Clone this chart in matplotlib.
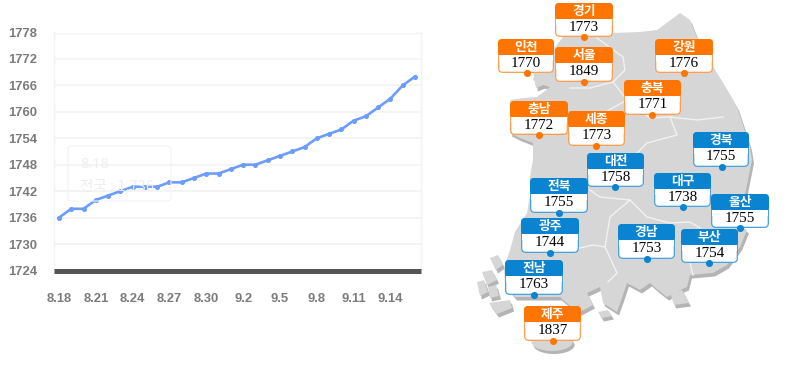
import matplotlib
matplotlib.use("Agg")
import matplotlib.pyplot as plt
from matplotlib.patches import FancyBboxPatch, Polygon, Rectangle, Ellipse

W, H = 791, 380
dates = ["8.18","8.19","8.20","8.21","8.22","8.23","8.24","8.25","8.26","8.27","8.28","8.29","8.30","8.31",
         "9.1","9.2","9.3","9.4","9.5","9.6","9.7","9.8","9.9","9.10","9.11","9.12","9.13","9.14","9.15","9.16"]
values = [1736,1738,1738,1740,1741,1742,1743,1743,1743,1744,1744,1745,1746,1746,1747,
          1748,1748,1749,1750,1751,1752,1754,1755,1756,1758,1759,1761,1763,1766,1768]
yticks = [1724,1730,1736,1742,1748,1754,1760,1766,1772,1778]

regions = ["경기","인천","서울","강원","충북","충남","세종","경북","대전","전북","대구","울산","광주","경남","부산","전남","제주"]
prices = [1773,1770,1849,1776,1771,1772,1773,1755,1758,1755,1738,1755,1744,1753,1754,1763,1837]
kinds = ["o","o","o","o","o","o","o","b","b","b","b","b","b","b","b","b","o"]
# box left, right, top, bottom in picture pixels
boxes = [(555,613,3,37),(498,554,39,73),(555,613,47,82),(655,713,39,73),(624,681,80,115),(510,568,101,135),
         (568,625,111,146),(693,749,132,167),(587,644,153,187),(530,588,178,213),(654,711,173,207),
         (711,769,194,228),(521,579,218,253),(618,675,224,259),(681,738,229,263),(505,563,260,295),(524,581,306,341)]
dot_x = [584,527,584,684,652,539,596,722,615,559,683,740,550,647,709,534,553]

mainland = [(563,37),(585,35),(613,33),(640,32),(657,30),(668,22),(680,13),(690,20),(696,35),(703,50),(713,67),(723,83),
            (730,95),(737,107),(743,125),(750,147),(752,160),(749,175),(746,190),(741,208),(737,223),(747,230),(740,247),
            (727,265),(713,273),(690,275),(687,287),(680,290),(667,297),(658,290),(650,283),(640,290),(627,283),(622,298),
            (617,312),(603,303),(600,287),(587,293),(593,305),(580,312),(570,306),(560,297),(530,297),(515,297),(505,285),
            (504,268),(510,250),(515,232),(527,213),(530,195),(530,177),(533,160),(533,143),(520,138),(510,133),(513,118),
            (510,100),(524,98),(537,97),(550,87),(540,84),(533,80),(537,67),(545,58),(553,50)]
islands = [[(490,258),(498,255),(503,265),(496,270)],[(482,272),(492,270),(497,280),(487,285)],
           [(477,282),(484,280),(488,292),(480,296)],[(488,287),(496,285),(499,296),(490,298)],
           [(489,303),(510,300),(512,308),(497,314)],[(670,292),(682,290),(689,303),(674,305)],
           [(598,312),(608,310),(612,316),(602,318)],[(533,72),(544,72),(546,84),(536,88)]]
borders = [[(597,38),(623,57),(625,70),(613,82),(627,100),(650,118),(670,117),(697,120),(723,117)],
           [(670,117),(677,135),(647,143),(630,160),(632,175)],
           [(570,88),(590,88),(613,82)],[(538,110),(570,113),(600,115),(627,100)],
           [(590,190),(600,197),(630,200),(610,217),(605,247),(617,273),(608,282)],
           [(630,200),(647,217),(670,223),(690,222),(700,228)],
           [(545,250),(580,248),(593,245),(605,247)],[(690,262),(693,275)]]

fig = plt.figure(figsize=(W/100, H/100), dpi=100)
ax = fig.add_axes([54/W, 1-270.5/H, (421-54)/W, (270.5-32.5)/H])
xs = list(range(len(dates)))
ax.plot(xs, values, color="#6c9cff", lw=1.9, marker="o", ms=2.6, zorder=4, clip_on=False)
ax.set_xlim(-5/12.28, 29+6/12.28)
ax.set_ylim(1724, 1778)
ax.set_yticks(yticks)
ax.set_xticks(xs[::3])
ax.set_xticklabels(dates[::3])
ax.grid(axis="y", color="#f3f3f3", lw=1.3)
ax.set_axisbelow(True)
ax.tick_params(length=0)
ax.tick_params(axis="y", pad=12)
ax.tick_params(axis="x", pad=16)
for lab in ax.get_xticklabels() + ax.get_yticklabels():
    lab.set_fontfamily("Liberation Sans")
    lab.set_fontweight("bold")
    lab.set_fontsize(9.4)
    lab.set_color("#7b7b7b")
for s in ("top", "left", "right"):
    ax.spines[s].set_color("#f3f3f3")
    ax.spines[s].set_linewidth(1.0)
ax.spines["bottom"].set_color("#555555")
ax.spines["bottom"].set_linewidth(3.6)
ax.spines["bottom"].set_capstyle("butt")

ov = fig.add_axes([0, 0, 1, 1], facecolor="none")
ov.set_xlim(0, W)
ov.set_ylim(H, 0)
ov.axis("off")

ov.add_patch(FancyBboxPatch((68, 146), 103, 55, boxstyle="round,pad=0,rounding_size=4",
                            fc="none", ec="#f0f3fb", lw=0.8, zorder=1))
ov.text(80, 164, "8.18", fontsize=10.5, color="#eeeeee", family="Noto Sans", va="center", zorder=1)
ov.text(80, 186, "전국 : 1,736", fontsize=10.5, color="#eeeeee", family="Noto Sans CJK KR", va="center", zorder=1)

SH = (2, 3.5)
for poly in [mainland] + islands:
    ov.add_patch(Polygon([(x+SH[0], y+SH[1]) for x, y in poly], fc="#b4b4b4", ec="none", zorder=2))
for poly in [mainland] + islands:
    ov.add_patch(Polygon(poly, fc="#d6d6d6", ec="none", zorder=3))
ov.add_patch(Ellipse((554, 345), 41, 18, fc="#b4b4b4", ec="none", zorder=2))
ov.add_patch(Ellipse((552, 342), 41, 18, fc="#d6d6d6", ec="none", zorder=3))
for line in borders:
    ov.plot(*zip(*line), color="#f2f2f2", lw=1.0, zorder=4)

COL = {"o": "#ff7500", "b": "#0a84d0"}
EDGE = {"o": "#ff9d50", "b": "#4aa3dc"}
for name, price, kind, (x0, x1, y0, y1), dx in zip(regions, prices, kinds, boxes, dot_x):
    c = COL[kind]
    ov.add_patch(FancyBboxPatch((x0, y0), x1-x0, y1-y0, boxstyle="round,pad=0,rounding_size=5",
                                fc=EDGE[kind], ec="none", zorder=5))
    ov.add_patch(FancyBboxPatch((x0, y0), x1-x0, 17, boxstyle="round,pad=0,rounding_size=4",
                                fc=c, ec="none", zorder=5))
    ov.add_patch(FancyBboxPatch((x0+1.3, y0+16), x1-x0-2.6, y1-y0-17.3, boxstyle="round,pad=0,rounding_size=3.5",
                                fc="white", ec="none", zorder=6))
    ov.add_patch(Rectangle((x0+1.3, y0+16), x1-x0-2.6, 6, fc="white", ec="none", zorder=6))
    ov.text((x0+x1)/2, y0+8.3, name, color="white", fontsize=9.2, fontweight="bold",
            family="Noto Sans CJK KR", ha="center", va="center", zorder=7)
    ov.text((x0+x1)/2, y0+24.5, str(price), color="black", fontsize=10.9,
            family="Liberation Serif", ha="center", va="center", zorder=7)
    ov.scatter([dx], [y1], s=26, color=c, linewidths=0, zorder=8)

fig.savefig("out.png", dpi=100)
